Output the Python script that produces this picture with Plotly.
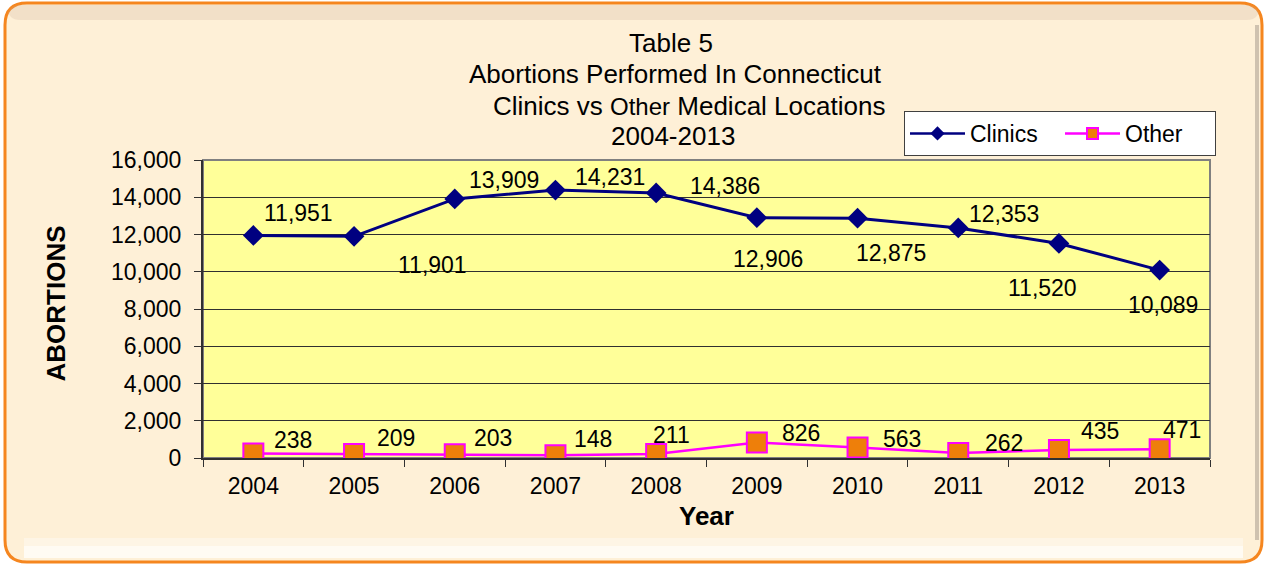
import plotly.graph_objects as go

# ---------------- data ----------------
years = ["2004", "2005", "2006", "2007", "2008", "2009", "2010", "2011", "2012", "2013"]
clinics = [11951, 11901, 13909, 14386, 14231, 12906, 12875, 12353, 11520, 10089]
other = [238, 209, 203, 148, 211, 826, 563, 262, 435, 471]
# data-label texts as printed on the chart (Excel labels)
clinic_labels = ["11,951", "11,901", "13,909", "14,231", "14,386", "12,906", "12,875", "12,353", "11,520", "10,089"]
other_labels = ["238", "209", "203", "148", "211", "826", "563", "262", "435", "471"]
y_ticks = [0, 2000, 4000, 6000, 8000, 10000, 12000, 14000, 16000]

# label offsets (pixels, dx right, dy up) relative to each point
clinic_off = [(45, 22), (78, -29), (49, 19), (55, 13), (69, 7), (11, -41), (33, -35), (46, 14), (-16, -45), (3, -35)]
other_off = [(40, 14), (42, 16), (38, 16), (38, 16), (15, 19), (44, 10), (44, 9), (46, 10), (41, 19), (22, 19)]

W, H = 1266, 566
L, R, T, B = 203, 56, 160, 108
PW, PH = W - L - R, H - T - B


def px(x):
    return (x - L) / PW


def py(y):
    return (H - B - y) / PH


FONT = "Liberation Sans, Arial, sans-serif"
NAVY = "#000080"
MAG = "#FF00FF"
ORANGE = "#EE7F0A"

fig = go.Figure()
fig.add_trace(go.Scatter(
    x=years, y=clinics, name="Clinics", mode="lines+markers", showlegend=False,
    line=dict(color=NAVY, width=3),
    marker=dict(symbol="diamond", size=16, color=NAVY, line=dict(width=0)),
))
fig.add_trace(go.Scatter(
    x=years, y=other, name="Other", mode="lines+markers", showlegend=False,
    line=dict(color=MAG, width=2.5),
    marker=dict(symbol="square", size=20, color=ORANGE, line=dict(width=2, color=MAG)),
))
# legend entries (smaller symbols, as in the original legend)
fig.add_trace(go.Scatter(
    x=[None], y=[None], name="Clinics", mode="lines+markers",
    line=dict(color=NAVY, width=2.5),
    marker=dict(symbol="diamond", size=11, color=NAVY, line=dict(width=0)),
))
fig.add_trace(go.Scatter(
    x=[None], y=[None], name="Other", mode="lines+markers",
    line=dict(color=MAG, width=2.5),
    marker=dict(symbol="square", size=11, color=ORANGE, line=dict(width=2, color=MAG)),
))

annotations = []
for i, (v, t, (dx, dy)) in enumerate(zip(clinics, clinic_labels, clinic_off)):
    annotations.append(dict(x=i, y=v, xref="x", yref="y", text=t, showarrow=False,
                            xshift=dx, yshift=dy, font=dict(family=FONT, size=23, color="black")))
for i, (v, t, (dx, dy)) in enumerate(zip(other, other_labels, other_off)):
    annotations.append(dict(x=i, y=v, xref="x", yref="y", text=t, showarrow=False,
                            xshift=dx, yshift=dy, font=dict(family=FONT, size=23, color="black")))

# title lines
title_lines = [
    ("Table 5", 671, 42.5),
    ("Abortions Performed In Connecticut", 675, 74),
    ("Clinics vs <span style=\"font-size:24px\">Other</span> Medical Locations", 689, 106),
    ("2004-2013", 673, 136.5),
]
for txt, cx, cy in title_lines:
    annotations.append(dict(x=px(cx), y=py(cy), xref="paper", yref="paper", text=txt,
                            showarrow=False, xanchor="center", yanchor="middle",
                            font=dict(family=FONT, size=26, color="black")))

annotations.append(dict(x=px(55), y=py(303.5), xref="paper", yref="paper", text="<b>ABORTIONS</b>",
                        textangle=-90, showarrow=False, xanchor="center", yanchor="middle",
                        font=dict(family=FONT, size=26, color="black")))
annotations.append(dict(x=px(706.5), y=py(516), xref="paper", yref="paper", text="<b>Year</b>",
                        showarrow=False, xanchor="center", yanchor="middle",
                        font=dict(family=FONT, size=26, color="black")))

# background frame (rounded rectangle)
x0, x1, y0, y1, rr = 5, 1262, 3, 562, 22


def rounded_path(x0, y0, x1, y1, r):
    X = lambda v: px(v)
    Y = lambda v: py(v)
    return (f"M {X(x0 + r)},{Y(y0)} L {X(x1 - r)},{Y(y0)} Q {X(x1)},{Y(y0)} {X(x1)},{Y(y0 + r)} "
            f"L {X(x1)},{Y(y1 - r)} Q {X(x1)},{Y(y1)} {X(x1 - r)},{Y(y1)} "
            f"L {X(x0 + r)},{Y(y1)} Q {X(x0)},{Y(y1)} {X(x0)},{Y(y1 - r)} "
            f"L {X(x0)},{Y(y0 + r)} Q {X(x0)},{Y(y0)} {X(x0 + r)},{Y(y0)} Z")


shapes = [
    dict(type="path", xref="paper", yref="paper", path=rounded_path(x0, y0, x1, y1, rr),
         fillcolor="#FEF0D7", line=dict(color="#F5861F", width=3), layer="below"),
    # top bevel shading
    dict(type="path", xref="paper", yref="paper", path=rounded_path(8, 5, 1259, 20, 12),
         fillcolor="rgba(200,170,150,0.22)", line=dict(width=0), layer="below"),
    # bottom highlight
    dict(type="rect", xref="paper", yref="paper", x0=px(24), x1=px(1243), y0=py(558), y1=py(546),
         fillcolor="rgba(255,255,255,0.7)", line=dict(width=0), layer="below"),
    dict(type="rect", xref="paper", yref="paper", x0=px(24), x1=px(1243), y0=py(546), y1=py(538),
         fillcolor="rgba(255,255,255,0.35)", line=dict(width=0), layer="below"),
    # right shadow
    dict(type="rect", xref="paper", yref="paper", x0=px(1255), x1=px(1259), y0=py(540), y1=py(25),
         fillcolor="rgba(120,110,100,0.35)", line=dict(width=0), layer="below"),
    # plot area
    dict(type="rect", xref="paper", yref="paper", x0=0, x1=1, y0=0, y1=1,
         fillcolor="#FFFF99", line=dict(color="#808080", width=2), layer="below"),
]

fig.update_layout(
    width=W, height=H,
    margin=dict(l=L, r=R, t=T, b=B, pad=0, autoexpand=False),
    paper_bgcolor="white",
    plot_bgcolor="rgba(0,0,0,0)",
    font=dict(family=FONT, color="black"),
    showlegend=True,
    legend=dict(orientation="h", x=px(904), y=py(111), xanchor="left", yanchor="top",
                bgcolor="white", bordercolor="#404040", borderwidth=1,
                font=dict(family=FONT, size=23, color="black"), itemwidth=55,
                entrywidth=85, tracegroupgap=0),
    annotations=annotations,
    shapes=shapes,
    xaxis=dict(type="category", categoryorder="array", categoryarray=years,
               range=[-0.5, 9.5], showgrid=False, zeroline=False,
               showline=True, linecolor="#303030", linewidth=2,
               ticks="outside", tickson="boundaries", ticklen=7, tickcolor="#303030",
               tickfont=dict(family=FONT, size=23, color="black"), ticklabelstandoff=6),
    yaxis=dict(range=[0, 16000], tickmode="array", tickvals=y_ticks, tickformat=",",
               showgrid=True, gridcolor="#303030", gridwidth=1, zeroline=False,
               showline=True, linecolor="#303030", linewidth=2,
               ticks="outside", ticklen=7, tickcolor="#303030",
               tickfont=dict(family=FONT, size=23, color="black"), ticklabelstandoff=8),
)

fig.write_html("out.html", config={"displayModeBar": False},
               post_script="document.body.style.margin='0';document.body.style.overflow='hidden';")
